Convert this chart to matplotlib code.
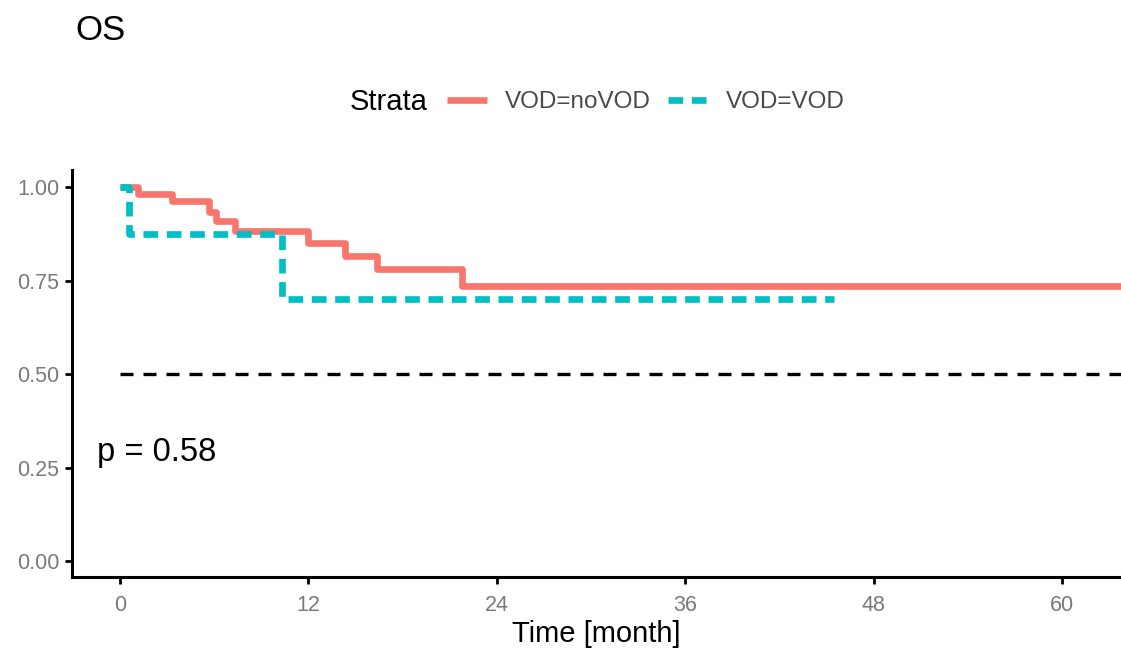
import matplotlib
matplotlib.use("Agg")
import matplotlib.pyplot as plt
from matplotlib.lines import Line2D

plt.rcParams['font.family'] = ['Liberation Sans', 'DejaVu Sans']

# Kaplan-Meier step estimates (time in months, survival probability)
novod_time = [0, 1.15, 3.3, 5.7, 6.1, 7.3, 12.0, 14.3, 16.4, 21.8, 64]
novod_surv = [1.0, 0.981, 0.962, 0.935, 0.909, 0.883, 0.852, 0.816, 0.782, 0.736, 0.736]
vod_time = [0, 0.55, 10.3, 45.5]
vod_surv = [1.0, 0.875, 0.70, 0.70]

strata_labels = ["VOD=noVOD", "VOD=VOD"]
strata_colors = ["#F8766D", "#00BFC4"]
x_ticks = [0, 12, 24, 36, 48, 60]
y_ticks = [0.00, 0.25, 0.50, 0.75, 1.00]
p_label = "p = 0.58"

LW = 4.8
TEAL_DASH = (0, (2.2, 1.3))

fig = plt.figure(figsize=(11.21, 6.54), dpi=100)
ax = fig.add_axes([0.0642, 0.1177, 0.9358, 0.6223])

ax.step(novod_time, novod_surv, where="post", color=strata_colors[0],
        lw=LW, solid_capstyle="butt", zorder=3)
ax.step(vod_time, vod_surv, where="post", color=strata_colors[1],
        lw=LW, linestyle=TEAL_DASH, dash_capstyle="butt", zorder=4)
ax.axhline(0.5, xmin=(0 + 3.06) / (63.76 + 3.06), xmax=1.0, color="black",
           lw=2.4, linestyle=(0, (3.9, 3.0)), zorder=2)

ax.text(-1.45, 0.29, p_label, fontsize=23.5, ha="left", va="center",
        color="black")

ax.set_xlim(-3.06, 63.76)
ax.set_ylim(-0.043, 1.046)
ax.set_xticks(x_ticks)
ax.set_xticklabels([str(v) for v in x_ticks])
ax.set_yticks(y_ticks)
ax.set_yticklabels([f"{v:.2f}" for v in y_ticks])
ax.tick_params(axis="both", labelsize=15.5, labelcolor="#7a7a7a",
               color="black", width=2.0, length=5)
ax.tick_params(axis="x", pad=8)
ax.tick_params(axis="y", pad=4)
for side in ("top", "right"):
    ax.spines[side].set_visible(False)
for side in ("left", "bottom"):
    ax.spines[side].set_linewidth(2.2)
ax.set_xlabel("Time [month]", fontsize=21, labelpad=3)

fig.text(0.067, 0.954, "OS", fontsize=25, ha="left", va="center")

handles = [
    Line2D([], [], color=strata_colors[0], lw=LW, solid_capstyle="butt"),
    Line2D([], [], color=strata_colors[1], lw=LW, linestyle=TEAL_DASH,
           dash_capstyle="butt"),
]
fig.text(0.312, 0.844, "Strata", fontsize=21, ha="left", va="center")
leg = fig.legend(handles, strata_labels, loc="center left",
                 bbox_to_anchor=(0.3988, 0.844), ncol=2, frameon=False,
                 fontsize=17.5, handlelength=1.65, handletextpad=0.74,
                 columnspacing=0.7, borderaxespad=0, borderpad=0)
for t in leg.get_texts():
    t.set_color("#4a4a4a")

fig.savefig("out.png", dpi=100)
